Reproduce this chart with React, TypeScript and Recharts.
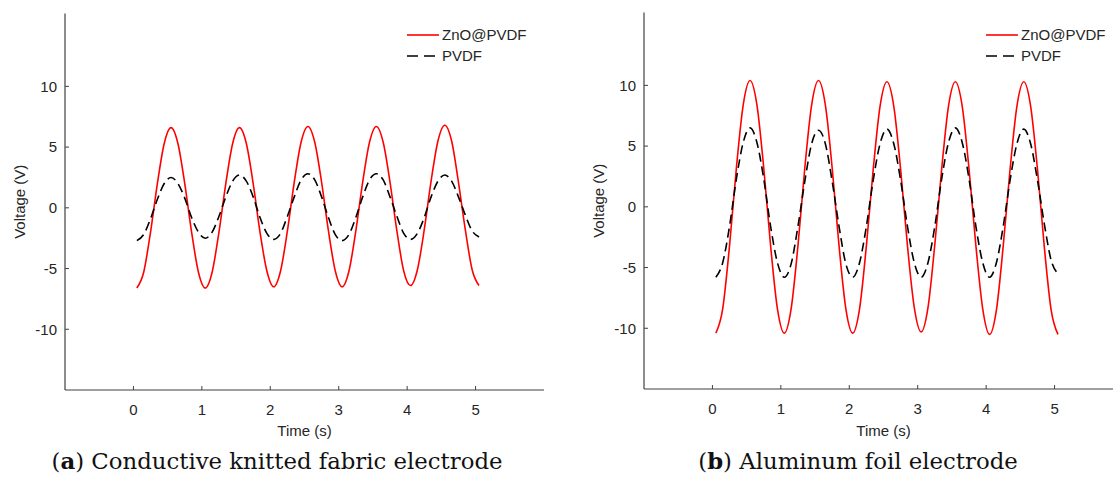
import React from "react";
import { LineChart, Line, XAxis, YAxis, Legend } from "recharts";

const timeS = [
  0.05, 0.15, 0.25, 0.35, 0.45, 0.55, 0.65, 0.75, 0.85, 0.95,
  1.05, 1.15, 1.25, 1.35, 1.45, 1.55, 1.65, 1.75, 1.85, 1.95,
  2.05, 2.15, 2.25, 2.35, 2.45, 2.55, 2.65, 2.75, 2.85, 2.95,
  3.05, 3.15, 3.25, 3.35, 3.45, 3.55, 3.65, 3.75, 3.85, 3.95,
  4.05, 4.15, 4.25, 4.35, 4.45, 4.55, 4.65, 4.75, 4.85, 4.95,
  5.05,
];

// (a) conductive knitted fabric electrode
const fabricZnO = [
  -6.6, -5.3, -2.0, 2.0, 5.3, 6.6, 5.3, 2.0, -2.0, -5.3,
  -6.6, -5.3, -2.0, 2.0, 5.3, 6.6, 5.3, 2.0, -2.0, -5.2,
  -6.5, -5.2, -1.9, 2.1, 5.4, 6.7, 5.4, 2.1, -1.9, -5.2,
  -6.5, -5.2, -1.9, 2.1, 5.4, 6.7, 5.4, 2.1, -1.9, -5.2,
  -6.4, -5.1, -1.8, 2.2, 5.5, 6.8, 5.5, 2.1, -1.8, -5.1,
  -6.4,
];
const fabricPVDF = [
  -2.7, -2.2, -0.9, 0.7, 2.0, 2.5, 2.0, 0.8, -0.8, -2.0,
  -2.5, -2.0, -0.7, 0.9, 2.2, 2.7, 2.2, 0.9, -0.8, -2.1,
  -2.6, -2.1, -0.7, 0.9, 2.3, 2.8, 2.3, 0.9, -0.8, -2.2,
  -2.7, -2.2, -0.8, 0.9, 2.3, 2.8, 2.3, 0.9, -0.7, -2.1,
  -2.6, -2.1, -0.8, 0.9, 2.2, 2.7, 2.2, 0.9, -0.6, -1.9,
  -2.4,
];

// (b) aluminum foil electrode
const foilZnO = [
  -10.4, -8.4, -3.2, 3.2, 8.4, 10.4, 8.4, 3.2, -3.2, -8.4,
  -10.4, -8.4, -3.2, 3.2, 8.4, 10.4, 8.4, 3.2, -3.2, -8.4,
  -10.4, -8.4, -3.2, 3.1, 8.3, 10.3, 8.3, 3.1, -3.2, -8.3,
  -10.3, -8.3, -3.1, 3.1, 8.3, 10.3, 8.3, 3.1, -3.2, -8.4,
  -10.5, -8.5, -3.2, 3.1, 8.3, 10.3, 8.3, 3.1, -3.3, -8.5,
  -10.5,
];
const foilPVDF = [
  -5.8, -4.6, -1.6, 2.3, 5.3, 6.5, 5.3, 2.3, -1.6, -4.6,
  -5.8, -4.7, -1.6, 2.1, 5.2, 6.3, 5.2, 2.1, -1.6, -4.7,
  -5.8, -4.6, -1.6, 2.2, 5.2, 6.4, 5.2, 2.2, -1.6, -4.6,
  -5.8, -4.6, -1.6, 2.3, 5.3, 6.5, 5.3, 2.3, -1.6, -4.6,
  -5.8, -4.6, -1.6, 2.2, 5.2, 6.4, 5.2, 2.2, -1.4, -4.4,
  -5.5,
];

const xTicks = [0, 1, 2, 3, 4, 5];
const yTicks = [-10, -5, 0, 5, 10];
const seriesNames = ["ZnO@PVDF", "PVDF"];

const FONT = "'Liberation Sans', Arial, Helvetica, sans-serif";
const SERIF = "'DejaVu Serif', 'Liberation Serif', serif";
const TEXT = "#262626";
const AXIS = "#404040";

const buildRows = (zno: number[], pvdf: number[]) =>
  timeS.map((t, i) => ({ t, zno: zno[i], pvdf: pvdf[i] }));

// ticks point inward, like matlab
const XTick = (props: any) => {
  const { x, y, payload } = props;
  return (
    <g>
      <line x1={x} x2={x} y1={y - 14} y2={y - 18} stroke={AXIS} strokeWidth={1} />
      <text x={x} y={y} dy="0.71em" textAnchor="middle" fill={TEXT} fontSize={15} fontFamily={FONT}>
        {payload.value}
      </text>
    </g>
  );
};

const YTick = (props: any) => {
  const { x, y, payload } = props;
  return (
    <g>
      <line x1={x + 8} x2={x + 12} y1={y} y2={y} stroke={AXIS} strokeWidth={1} />
      <text x={x} y={y} dy="0.355em" textAnchor="end" fill={TEXT} fontSize={15} fontFamily={FONT}>
        {payload.value}
      </text>
    </g>
  );
};

const LegendBox = () => (
  <div style={{ fontFamily: FONT, fontSize: 15, color: TEXT, lineHeight: "21px" }}>
    {seriesNames.map((name, i) => (
      <div key={name} style={{ display: "flex", alignItems: "center", height: 21 }}>
        <svg width={32} height={4} style={{ display: "block" }}>
          <line
            x1={0}
            y1={2}
            x2={32}
            y2={2}
            stroke={i === 0 ? "#ff0000" : "#000000"}
            strokeWidth={1.6}
            strokeDasharray={i === 0 ? undefined : "11 6"}
          />
        </svg>
        <span style={{ marginLeft: 3, whiteSpace: "nowrap" }}>{name}</span>
      </div>
    ))}
  </div>
);

const Panel = ({ rows, top }: { rows: any[]; top: number }) => (
  <LineChart width={562} height={440} data={rows} margin={{ top, right: 18, left: 0, bottom: 0 }}>
    <XAxis
      dataKey="t"
      type="number"
      domain={[-1, 6]}
      ticks={xTicks}
      allowDataOverflow
      height={440 - 390 - (top - 13.5)}
      stroke={AXIS}
      strokeWidth={1.2}
      tickLine={false}
      tickSize={0}
      tickMargin={14}
      tick={<XTick />}
      label={{ value: "Time (s)", position: "insideBottom", offset: 4.5, fill: TEXT, fontSize: 15, fontFamily: FONT }}
    />
    <YAxis
      type="number"
      domain={[-15, 16]}
      ticks={yTicks}
      allowDataOverflow
      width={65}
      stroke={AXIS}
      strokeWidth={1.2}
      tickLine={false}
      tickSize={0}
      tickMargin={8}
      tick={<YTick />}
      label={{
        value: "Voltage (V)",
        angle: -90,
        position: "insideLeft",
        offset: 20,
        fill: TEXT,
        fontSize: 15,
        fontFamily: FONT,
        style: { textAnchor: "middle" },
      }}
    />
    <Legend
      layout="vertical"
      align="center"
      verticalAlign="middle"
      content={<LegendBox />}
      wrapperStyle={{ left: 407, top: 24, width: 140, height: 42 }}
    />
    <Line
      type="monotone"
      dataKey="zno"
      name="ZnO@PVDF"
      stroke="#ff0000"
      strokeWidth={1.6}
      dot={false}
      isAnimationActive={false}
    />
    <Line
      type="monotone"
      dataKey="pvdf"
      name="PVDF"
      stroke="#000000"
      strokeWidth={1.6}
      strokeDasharray="9 5"
      dot={false}
      isAnimationActive={false}
    />
  </LineChart>
);

const captionStyle: React.CSSProperties = {
  position: "absolute",
  top: 449.5,
  width: 600,
  textAlign: "center",
  fontFamily: SERIF,
  fontSize: 22.8,
  lineHeight: "22.8px",
  color: "#111",
  whiteSpace: "nowrap",
};

export default function App() {
  return (
    <div
      style={{
        position: "absolute",
        left: 0,
        top: 0,
        width: 1113,
        height: 477,
        overflow: "hidden",
        background: "#fff",
      }}
    >
      <div style={{ position: "absolute", left: 0, top: 0 }}>
        <Panel rows={buildRows(fabricZnO, fabricPVDF)} top={13.5} />
      </div>
      <div style={{ position: "absolute", left: 579, top: 0 }}>
        <Panel rows={buildRows(foilZnO, foilPVDF)} top={12.5} />
      </div>
      <div style={{ ...captionStyle, left: 277 - 300 }}>
        (<b>a</b>) Conductive knitted fabric electrode
      </div>
      <div style={{ ...captionStyle, left: 858 - 300 }}>
        (<b>b</b>) Aluminum foil electrode
      </div>
    </div>
  );
}
